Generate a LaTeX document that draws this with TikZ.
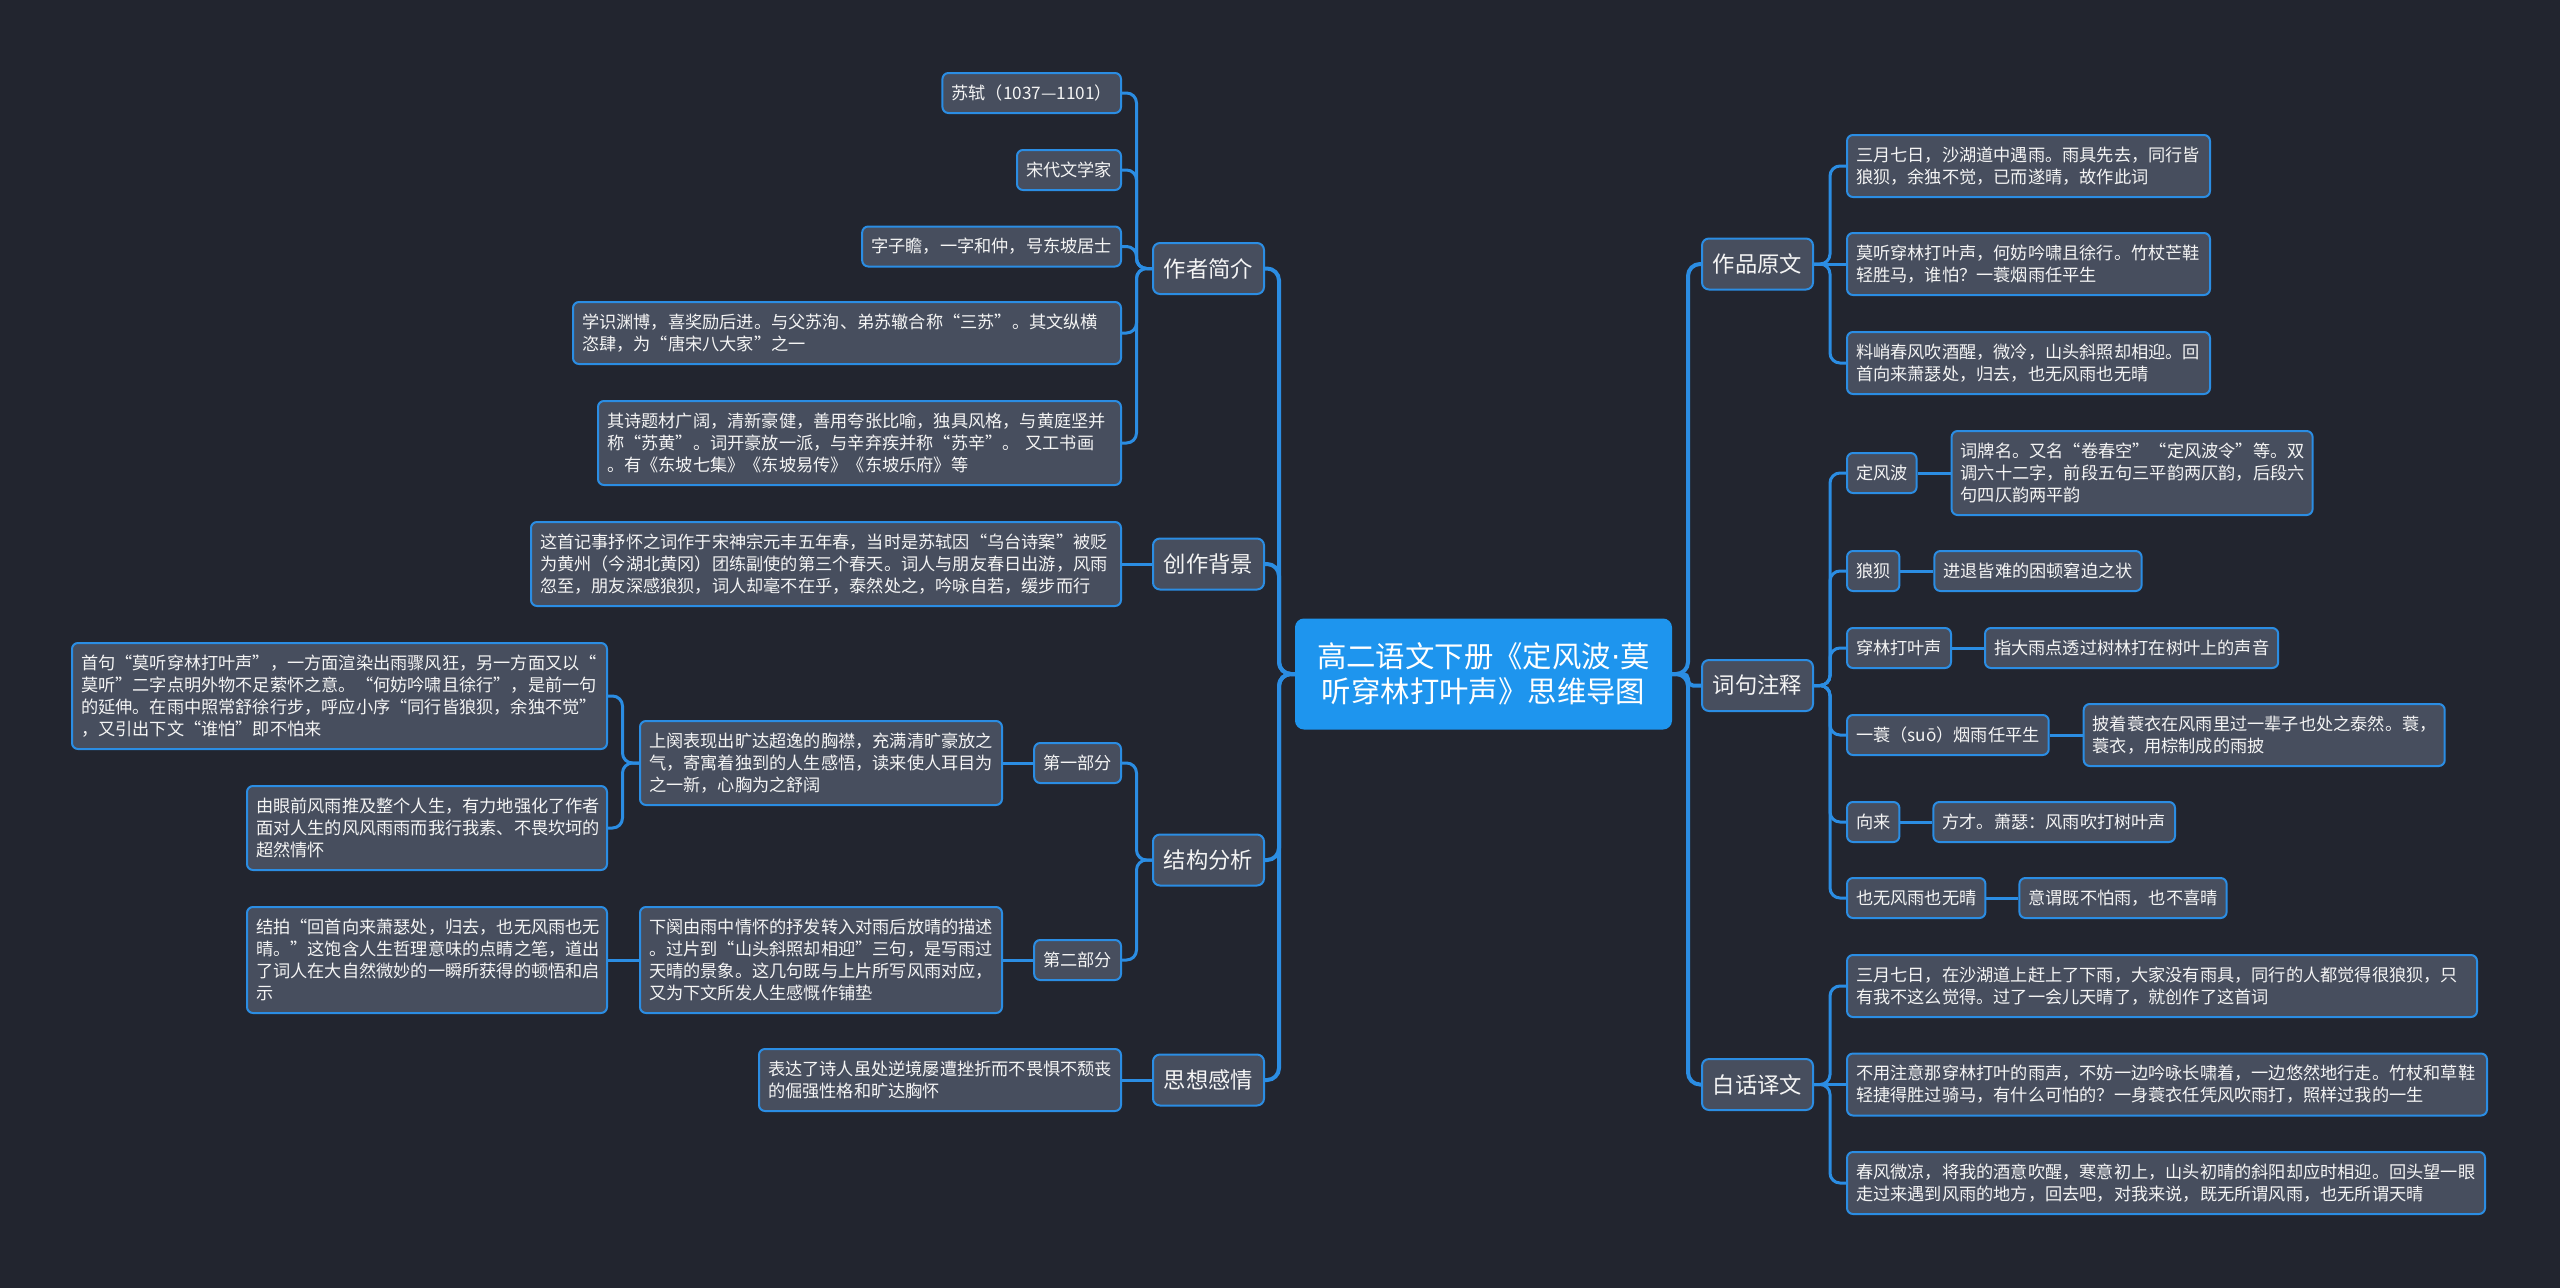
\documentclass[tikz,border=0pt]{standalone}
\usepackage{fontspec}
\setmainfont{Noto Sans CJK SC}
\newfontfamily\dotfont{DejaVu Sans}
\usetikzlibrary{backgrounds}
\definecolor{bgc}{HTML}{22252F}
\definecolor{nfill}{HTML}{474E5E}
\definecolor{blu}{HTML}{2B8DE3}
\definecolor{rootc}{HTML}{1E95EE}
\definecolor{txt}{HTML}{F4F4F4}
\begin{document}
\begin{tikzpicture}[x=1pt,y=-1pt,
  leaf/.style={draw=blu, line width=2pt, fill=nfill, rounded corners=6pt, text=txt,
    font=\fontsize{17.2}{22}\selectfont, inner xsep=9pt, inner ysep=0pt, minimum height=40pt},
  para/.style={leaf, align=left, text width=#1},
  lvl/.style={draw=blu, line width=2pt, fill=nfill, rounded corners=7pt, text=txt,
    font=\fontsize{22.3}{27}\selectfont, minimum width=111pt, minimum height=51pt, inner sep=0pt},
  rootbox/.style={fill=rootc, draw=rootc, line width=2pt, rounded corners=8pt, text=white,
    font=\fontsize{29.4}{35}\selectfont, align=center, minimum width=375pt, minimum height=109pt, inner sep=0pt},
  link/.style={draw=blu, line width=3pt, rounded corners=10pt},
  mainlink/.style={link, line width=4pt, rounded corners=12pt}
]
\useasboundingbox (0,0) rectangle (2560,1288);

% root
\node[rootbox] (root) at (1483.5,674) {高二语文下册《定风波{\dotfont ·}莫\\听穿林打叶声》思维导图};

% level 1
\node[lvl] (zz) at (1208.5,268.5) {作者简介};
\node[lvl] (cz) at (1208.5,564) {创作背景};
\node[lvl] (jg) at (1208.5,860) {结构分析};
\node[lvl] (sx) at (1208.5,1080) {思想感情};
\node[lvl] (yw) at (1757.5,264) {作品原文};
\node[lvl] (cj) at (1757.5,685.5) {词句注释};
\node[lvl] (bh) at (1757.5,1084.5) {白话译文};

% 作者简介
\node[leaf, anchor=east] (zz1) at (1122,93) {苏轼（1037—1101）};
\node[leaf, anchor=east] (zz2) at (1122,170) {宋代文学家};
\node[leaf, anchor=east] (zz3) at (1122,246.5) {字子瞻，一字和仲，号东坡居士};
\node[para=530pt, minimum height=62pt, anchor=east] (zz4) at (1122,333) {学识渊博，喜奖励后进。与父苏洵、弟苏辙合称“三苏”。其文纵横\\恣肆，为“唐宋八大家”之一};
\node[para=505pt, minimum height=84pt, anchor=east] (zz5) at (1122,443) {其诗题材广阔，清新豪健，善用夸张比喻，独具风格，与黄庭坚并\\称“苏黄”。词开豪放一派，与辛弃疾并称“苏辛”。~又工书画\\。有《东坡七集》《东坡易传》《东坡乐府》等};

% 创作背景
\node[para=572pt, minimum height=84pt, anchor=east] (cz1) at (1122,564) {这首记事抒怀之词作于宋神宗元丰五年春，当时是苏轼因“乌台诗案”被贬\\为黄州（今湖北黄冈）团练副使的第三个春天。词人与朋友春日出游，风雨\\忽至，朋友深感狼狈，词人却毫不在乎，泰然处之，吟咏自若，缓步而行};

% 结构分析
\node[leaf, anchor=east] (jg1) at (1122,763) {第一部分};
\node[leaf, anchor=east] (jg2) at (1122,960) {第二部分};
\node[para=344pt, minimum height=84pt, anchor=east] (sq) at (1003,763) {上阕表现出旷达超逸的胸襟，充满清旷豪放之\\气，寄寓着独到的人生感悟，读来使人耳目为\\之一新，心胸为之舒阔};
\node[para=517pt, minimum height=106pt, anchor=east] (sq1) at (608,696) {首句“莫听穿林打叶声”，一方面渲染出雨骤风狂，另一方面又以“\\莫听”二字点明外物不足萦怀之意。“何妨吟啸且徐行”，是前一句\\的延伸。在雨中照常舒徐行步，呼应小序“同行皆狼狈，余独不觉”\\，又引出下文“谁怕”即不怕来};
\node[para=342pt, minimum height=84pt, anchor=east] (sq2) at (608,828) {由眼前风雨推及整个人生，有力地强化了作者\\面对人生的风风雨雨而我行我素、不畏坎坷的\\超然情怀};
\node[para=344pt, minimum height=106pt, anchor=east] (xq) at (1003,960) {下阕由雨中情怀的抒发转入对雨后放晴的描述\\。过片到“山头斜照却相迎”三句，是写雨过\\天晴的景象。这几句既与上片所写风雨对应，\\又为下文所发人生感慨作铺垫};
\node[para=342pt, minimum height=106pt, anchor=east] (xq1) at (608,960) {结拍“回首向来萧瑟处，归去，也无风雨也无\\晴。”这饱含人生哲理意味的点睛之笔，道出\\了词人在大自然微妙的一瞬所获得的顿悟和启\\示};

% 思想感情
\node[para=344pt, minimum height=62pt, anchor=east] (sx1) at (1122,1080) {表达了诗人虽处逆境屡遭挫折而不畏惧不颓丧\\的倔强性格和旷达胸怀};

% 作品原文
\node[para=345pt, minimum height=62pt, anchor=west] (yw1) at (1846,166) {三月七日，沙湖道中遇雨。雨具先去，同行皆\\狼狈，余独不觉，已而遂晴，故作此词};
\node[para=345pt, minimum height=62pt, anchor=west] (yw2) at (1846,264) {莫听穿林打叶声，何妨吟啸且徐行。竹杖芒鞋\\轻胜马，谁怕？一蓑烟雨任平生};
\node[para=345pt, minimum height=62pt, anchor=west] (yw3) at (1846,363) {料峭春风吹酒醒，微冷，山头斜照却相迎。回\\首向来萧瑟处，归去，也无风雨也无晴};

% 词句注释
\node[leaf, anchor=west] (cj1) at (1846,473) {定风波};
\node[para=343pt, minimum height=84pt, anchor=west] (cj1a) at ([xshift=33pt]cj1.east) {词牌名。又名“卷春空”“定风波令”等。双\\调六十二字，前段五句三平韵两仄韵，后段六\\句四仄韵两平韵};
\node[leaf, anchor=west] (cj2) at (1846,571) {狼狈};
\node[leaf, anchor=west] (cj2a) at ([xshift=33pt]cj2.east) {进退皆难的困顿窘迫之状};
\node[leaf, anchor=west] (cj3) at (1846,648) {穿林打叶声};
\node[leaf, anchor=west] (cj3a) at ([xshift=32pt]cj3.east) {指大雨点透过树林打在树叶上的声音};
\node[leaf, anchor=west] (cj4) at (1846,735) {一蓑（suō）烟雨任平生};
\node[para=343pt, minimum height=62pt, anchor=west] (cj4a) at ([xshift=33pt]cj4.east) {披着蓑衣在风雨里过一辈子也处之泰然。蓑，\\蓑衣，用棕制成的雨披};
\node[leaf, anchor=west] (cj5) at (1846,822) {向来};
\node[leaf, anchor=west] (cj5a) at ([xshift=32pt]cj5.east) {方才。萧瑟：风雨吹打树叶声};
\node[leaf, anchor=west] (cj6) at (1846,898) {也无风雨也无晴};
\node[leaf, anchor=west] (cj6a) at ([xshift=32pt]cj6.east) {意谓既不怕雨，也不喜晴};

% 白话译文
\node[para=612pt, minimum height=62pt, anchor=west] (bh1) at (1846,986) {三月七日，在沙湖道上赶上了下雨，大家没有雨具，同行的人都觉得很狼狈，只\\有我不这么觉得。过了一会儿天晴了，就创作了这首词};
\node[para=622pt, minimum height=62pt, anchor=west] (bh2) at (1846,1084.5) {不用注意那穿林打叶的雨声，不妨一边吟咏长啸着，一边悠然地行走。竹杖和草鞋\\轻捷得胜过骑马，有什么可怕的？一身蓑衣任凭风吹雨打，照样过我的一生};
\node[para=620pt, minimum height=62pt, anchor=west] (bh3) at (1846,1183) {春风微凉，将我的酒意吹醒，寒意初上，山头初晴的斜阳却应时相迎。回头望一眼\\走过来遇到风雨的地方，回去吧，对我来说，既无所谓风雨，也无所谓天晴};

\begin{pgfonlayer}{background}
\fill[bgc] (0,0) rectangle (2560,1288);
% main branches
\draw[mainlink] (root.west) -- ++(-16,0) |- (zz.east);
\draw[mainlink] (root.west) -- ++(-16,0) |- (cz.east);
\draw[mainlink] (root.west) -- ++(-16,0) |- (jg.east);
\draw[mainlink] (root.west) -- ++(-16,0) |- (sx.east);
\draw[mainlink] (root.east) -- ++(16,0) |- (yw.west);
\draw[mainlink, rounded corners=5pt] (root.east) -- ++(16,0) |- (cj.west);
\draw[mainlink] (root.east) -- ++(16,0) |- (bh.west);
% 作者简介
\foreach \c in {zz1,zz2,zz3,zz4,zz5}
  \draw[link] (zz.west) -- ++(-15.5,0) |- (\c.east);
% 创作背景
\draw[link] (cz.west) -- (cz1.east);
% 结构分析
\draw[link] (jg.west) -- ++(-15.5,0) |- (jg1.east);
\draw[link] (jg.west) -- ++(-15.5,0) |- (jg2.east);
\draw[link] (jg1.west) -- (sq.east);
\draw[link] (jg2.west) -- (xq.east);
\draw[link] (sq.west) -- ++(-16.5,0) |- (sq1.east);
\draw[link] (sq.west) -- ++(-16.5,0) |- (sq2.east);
\draw[link] (xq.west) -- (xq1.east);
% 思想感情
\draw[link] (sx.west) -- (sx1.east);
% 作品原文
\draw[link] (yw.east) -- ++(16,0) |- (yw1.west);
\draw[link] (yw.east) -- (yw2.west);
\draw[link] (yw.east) -- ++(16,0) |- (yw3.west);
% 词句注释
\foreach \c in {cj1,cj2,cj3,cj4,cj5,cj6}
  \draw[link] (cj.east) -- ++(16,0) |- (\c.west);
\draw[link] (cj1.east) -- (cj1a.west);
\draw[link] (cj2.east) -- (cj2a.west);
\draw[link] (cj3.east) -- (cj3a.west);
\draw[link] (cj4.east) -- (cj4a.west);
\draw[link] (cj5.east) -- (cj5a.west);
\draw[link] (cj6.east) -- (cj6a.west);
% 白话译文
\draw[link] (bh.east) -- ++(16,0) |- (bh1.west);
\draw[link] (bh.east) -- (bh2.west);
\draw[link] (bh.east) -- ++(16,0) |- (bh3.west);
\end{pgfonlayer}
\end{tikzpicture}
\end{document}
